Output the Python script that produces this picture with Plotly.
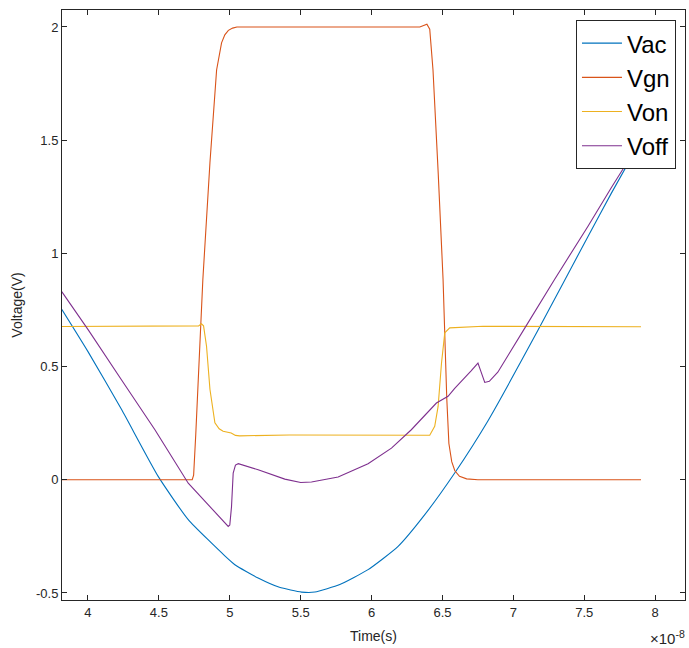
import plotly.graph_objects as go

# time in units of 1e-8 s
vac_t = [3.815, 4.0, 4.237, 4.495, 4.707, 4.965, 5.036, 5.2, 5.35, 5.506, 5.6, 5.776, 5.975,
         6.187, 6.375, 6.586, 6.82, 7.173, 7.526, 7.69, 7.9]
vac_v = [0.753, 0.566, 0.31, 0.015, -0.176, -0.336, -0.375, -0.434, -0.475, -0.496, -0.496, -0.463,
         -0.397, -0.294, -0.154, 0.03, 0.26, 0.66, 1.075, 1.265, 1.5]

vgn_t = [3.815, 4.735, 4.745, 4.76, 4.81, 4.86, 4.907, 4.925, 4.942, 4.965, 4.99, 5.02, 5.05,
         6.34, 6.37, 6.39, 6.41, 6.433, 6.47, 6.504, 6.53, 6.545, 6.565, 6.587, 6.62, 6.67,
         6.75, 7.9]
vgn_v = [0.0, 0.0, 0.02, 0.2, 0.885, 1.4, 1.81, 1.88, 1.93, 1.965, 1.985, 1.995, 2.0,
         2.0, 2.008, 2.012, 1.99, 1.81, 1.35, 0.885, 0.36, 0.16, 0.08, 0.04, 0.015, 0.004,
         0.0, 0.0]

von_t = [3.815, 4.78, 4.80, 4.815, 4.836, 4.86, 4.895, 4.925, 4.953, 5.01, 5.04, 5.07, 5.42, 6.2,
         6.41, 6.445, 6.469, 6.493, 6.516, 6.551, 6.786, 7.9]
von_v = [0.677, 0.68, 0.689, 0.68, 0.59, 0.40, 0.252, 0.225, 0.214, 0.207, 0.196, 0.194, 0.198,
         0.195, 0.197, 0.236, 0.324, 0.516, 0.649, 0.671, 0.678, 0.676]

voff_t = [3.815, 4.002, 4.237, 4.472, 4.707, 4.848, 4.87, 4.89, 4.989, 5.0, 5.012, 5.024, 5.04,
          5.06, 5.2, 5.388, 5.5, 5.576, 5.764, 5.975, 6.14, 6.28, 6.457, 6.539, 6.586, 6.7,
          6.75, 6.77, 6.798, 6.83, 6.89, 7.08, 7.29, 7.526, 7.69, 7.9]
voff_v = [0.831, 0.662, 0.441, 0.221, -0.015, -0.11, -0.125, -0.14, -0.206, -0.2, -0.12, 0.03,
          0.065, 0.071, 0.044, 0.003, -0.012, -0.01, 0.012, 0.071, 0.14, 0.221, 0.339, 0.369,
          0.404, 0.48, 0.515, 0.48, 0.43, 0.435, 0.475, 0.67, 0.885, 1.12, 1.29, 1.5]

x_ticks = [4, 4.5, 5, 5.5, 6, 6.5, 7, 7.5, 8]
x_labels = ["4", "4.5", "5", "5.5", "6", "6.5", "7", "7.5", "8"]
y_ticks = [-0.5, 0, 0.5, 1, 1.5, 2]
y_labels = ["-0.5", "0", "0.5", "1", "1.5", "2"]

series = [
    ("Vac", vac_t, vac_v, "#0072BD", "spline"),
    ("Vgn", vgn_t, vgn_v, "#D95319", "linear"),
    ("Von", von_t, von_v, "#EDB120", "linear"),
    ("Voff", voff_t, voff_v, "#7E2F8E", "linear"),
]

fig = go.Figure()
for name, t, v, c, shape in series:
    line = dict(color=c, width=1.1, shape=shape)
    if shape == "spline":
        line["smoothing"] = 0.5
    fig.add_trace(go.Scatter(x=t, y=v, mode="lines", name=name, line=line))

axis_common = dict(showgrid=False, zeroline=False, showline=True, linecolor="#262626",
                   linewidth=1, mirror="ticks", ticks="inside", ticklen=5, tickwidth=1,
                   tickcolor="#262626", tickfont=dict(family="Liberation Sans, Arial", size=13,
                                                      color="#262626"))

fig.update_layout(
    width=689, height=648,
    paper_bgcolor="white", plot_bgcolor="white",
    margin=dict(l=62, r=4, t=10, b=48),
    font=dict(family="Liberation Sans, Arial", color="#262626"),
    xaxis=dict(range=[3.8168, 8.21], tickvals=x_ticks, ticktext=x_labels,
               title=dict(text="Time(s)", font=dict(size=14, color="#262626"), standoff=12),
               **axis_common),
    yaxis=dict(range=[-0.531, 2.075], tickvals=y_ticks, ticktext=y_labels,
               title=dict(text="Voltage(V)", font=dict(size=14, color="#262626"), standoff=10),
               **axis_common),
    legend=dict(x=0.9855, y=0.983, xanchor="right", yanchor="top", bgcolor="white",
                bordercolor="#262626", borderwidth=1,
                font=dict(family="Liberation Sans, Arial", size=24, color="black"),
                itemwidth=40, tracegroupgap=0),
    showlegend=True,
)

fig.add_annotation(xref="paper", yref="paper", x=1.003, y=-0.064, xanchor="right", yanchor="middle",
                   text="×10<sup>-8</sup>", showarrow=False,
                   font=dict(family="Liberation Sans, Arial", size=15, color="#262626"))

fig.write_html("out.html", config={"displayModeBar": False},
               post_script="document.body.style.margin='0';document.body.style.overflow='hidden';")
